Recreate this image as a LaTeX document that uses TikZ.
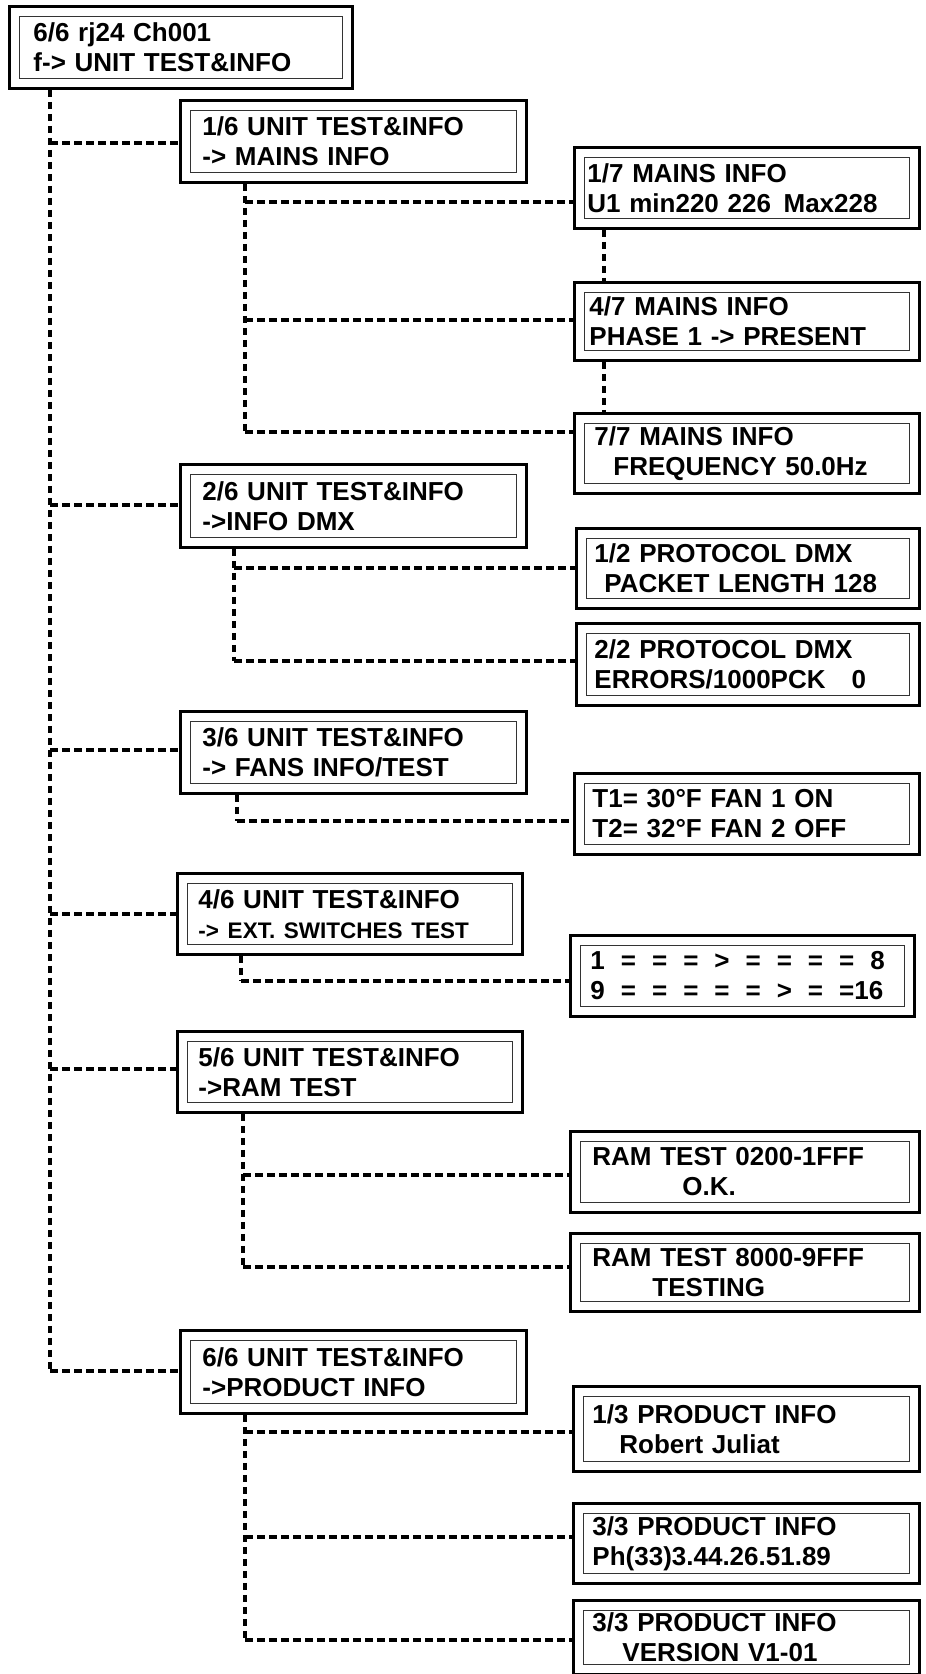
\documentclass[tikz,border=0pt]{standalone}
\usepackage{fontspec}
\setmainfont{Liberation Sans}
\DeclareRobustCommand\lcdfont{\bfseries\fontsize{26}{30}\selectfont\spaceskip=11pt plus 1pt minus 1pt\relax}
\tikzset{
  lcd/.style={draw, line width=2.9pt, inner ysep=0pt, align=left,
    font=\lcdfont,
    path picture={\draw[line width=1.3pt, black!80]
      ([shift={(10pt,-10pt)}]path picture bounding box.north west) rectangle
      ([shift={(-10pt,10pt)}]path picture bounding box.south east);}},
  link/.style={line width=3.1pt, dash pattern=on 7.5pt off 4.5pt},
}
\newcommand\lcdbox[7][14]{%
  \pgfmathsetlengthmacro\lcdw{(#5-#3)*1pt}%
  \pgfmathsetlengthmacro\lcdh{(#6-#4)*1pt}%
  \pgfmathsetlengthmacro\lcdtw{(#5-#3)*1pt-2*#1*1pt}%
  \node[lcd, inner xsep=#1pt, minimum width=\lcdw, minimum height=\lcdh,
        text width=\lcdtw, anchor=north west] (#2) at (#3,#4) {#7};}
\begin{document}
\begin{tikzpicture}[x=1pt,y=-1pt]
\useasboundingbox (0,0) rectangle (926,1674);
% top
\lcdbox[24]{T}{8}{5}{351}{87}{6/6 rj24 Ch001\\f-> UNIT TEST\&INFO}
% level 1
\lcdbox[22]{A1}{179}{99}{525}{181}{1/6 UNIT TEST\&INFO\\-> MAINS INFO}
\lcdbox[22]{A2}{179}{463}{525}{546}{2/6 UNIT TEST\&INFO\\->INFO DMX}
\lcdbox[22]{A3}{179}{710}{525}{792}{3/6 UNIT TEST\&INFO\\-> FANS INFO/TEST}
\lcdbox[21]{A4}{176}{872}{521}{953}{4/6 UNIT TEST\&INFO\\{\fontsize{22.5}{30}\selectfont -> EXT. SWITCHES TEST}}
\lcdbox[21]{A5}{176}{1030}{521}{1111}{5/6 UNIT TEST\&INFO\\->RAM TEST}
\lcdbox[22]{A6}{179}{1329}{525}{1412}{6/6 UNIT TEST\&INFO\\->PRODUCT INFO}
% level 2
\lcdbox[13]{B1}{573}{146}{918}{227}{1/7 MAINS INFO\\U1 min220 226 \hspace{4pt}Max228}
\lcdbox[15]{B2}{573}{281}{918}{359}{4/7 MAINS INFO\\PHASE 1 -> PRESENT}
\lcdbox[20]{B3}{573}{412}{918}{492}{7/7 MAINS INFO\\\hspace*{19pt}FREQUENCY 50.0Hz}
\lcdbox[18]{B4}{575}{527}{918}{607}{1/2 PROTOCOL DMX\\\hspace*{10pt}PACKET LENGTH 128}
\lcdbox[18]{B5}{575}{622}{918}{704}{2/2 PROTOCOL DMX\\ERRORS/1000PCK~~~0}
\lcdbox[18]{B6}{573}{772}{918}{853}{T1= 30°F FAN 1 ON\\T2= 32°F FAN 2 OFF}
\lcdbox[20]{B7}{569}{934}{913}{1015}{\spaceskip=16pt\relax 1 = = = > = = = = 8\\9 = = = = = > = =16}
\lcdbox[22]{B8}{569}{1130}{918}{1211}{RAM TEST 0200-1FFF\\\hspace*{90pt}O.K.}
\lcdbox[22]{B9}{569}{1232}{918}{1310}{RAM TEST 8000-9FFF\\\hspace*{60pt}TESTING}
\lcdbox[19]{B10}{572}{1385}{918}{1470}{1/3 PRODUCT INFO\\\hspace*{27pt}Robert Juliat}
\lcdbox[19]{B11}{572}{1502}{918}{1582}{3/3 PRODUCT INFO\\Ph(33)3.44.26.51.89}
\lcdbox[19]{B12}{572}{1599}{918}{1673}{3/3 PRODUCT INFO\\\hspace*{30pt}VERSION V1-01}
% main trunk
\coordinate (v0) at (50,1371);
\draw[link] (T.south -| v0) -- (v0);
\coordinate (h1) at (50,143);
\coordinate (h2) at (50,505);
\coordinate (h3) at (50,750);
\coordinate (h4) at (50,914);
\coordinate (h5) at (50,1069);
\draw[link] (h1) -- (h1 -| A1.west);
\draw[link] (h2) -- (h2 -| A2.west);
\draw[link] (h3) -- (h3 -| A3.west);
\draw[link] (h4) -- (h4 -| A4.west);
\draw[link] (h5) -- (h5 -| A5.west);
\draw[link] (v0) -- (v0 -| A6.west);
% branch 1
\coordinate (s1) at (245,432);
\draw[link] (A1.south -| s1) -- (s1);
\coordinate (c11) at (245,202);
\coordinate (c12) at (245,320);
\draw[link] (c11) -- (c11 -| B1.west);
\draw[link] (c12) -- (c12 -| B2.west);
\draw[link] (s1) -- (s1 -| B3.west);
\coordinate (m1) at (604,0);
\draw[link] (B1.south -| m1) -- (B2.north -| m1);
\draw[link] (B2.south -| m1) -- (B3.north -| m1);
% branch 2
\coordinate (s2) at (234,661);
\draw[link] (A2.south -| s2) -- (s2);
\coordinate (c21) at (234,568);
\draw[link] (c21) -- (c21 -| B4.west);
\draw[link] (s2) -- (s2 -| B5.west);
% branch 3
\coordinate (s3) at (237,821);
\draw[link] (A3.south -| s3) -- (s3);
\draw[link] (s3) -- (s3 -| B6.west);
% branch 4
\coordinate (s4) at (241,981);
\draw[link] (A4.south -| s4) -- (s4);
\draw[link] (s4) -- (s4 -| B7.west);
% branch 5
\coordinate (s5) at (243,1267);
\draw[link] (A5.south -| s5) -- (s5);
\coordinate (c51) at (243,1175);
\draw[link] (c51) -- (c51 -| B8.west);
\draw[link] (s5) -- (s5 -| B9.west);
% branch 6
\coordinate (s6) at (245,1640);
\draw[link] (A6.south -| s6) -- (s6);
\coordinate (c61) at (245,1432);
\coordinate (c62) at (245,1537);
\draw[link] (c61) -- (c61 -| B10.west);
\draw[link] (c62) -- (c62 -| B11.west);
\draw[link] (s6) -- (s6 -| B12.west);
\end{tikzpicture}
\end{document}
